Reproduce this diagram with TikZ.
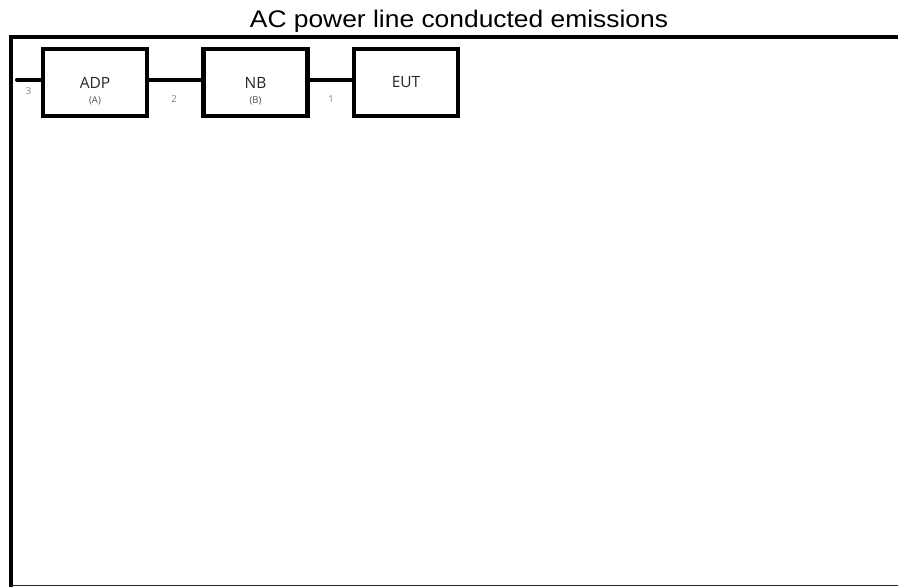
\documentclass[tikz,border=0pt]{standalone}
\usepackage{fontspec}
\setmainfont{Liberation Sans}
\newfontfamily\boxfont{Open Sans}
\usepackage{tikz}
\usetikzlibrary{positioning}

\begin{document}
\begin{tikzpicture}[x=1pt, y=-1pt,
  unitbox/.style={draw, rectangle, line width=4.5pt, inner sep=0pt,
    minimum width=104pt, minimum height=67pt,
    font=\boxfont\fontsize{15.5}{18}\selectfont, text=black!85},
  sublabel/.style={font=\boxfont\fontsize{9.5}{11}\selectfont, text=black!70},
  portnum/.style={font=\boxfont\fontsize{9.5}{11}\selectfont, text=black!50},
  wire/.style={line width=4pt, line cap=round}]
\useasboundingbox (0,0) rectangle (898,587);

% Titulo
\node[anchor=base, xscale=1.1, font=\fontsize{24}{28}\selectfont] (title) at (459,27) {AC power line conducted emissions};

% Moldura
\draw[line width=4.5pt] (11,587) -- (11,37) -- (898,37);
\draw[line width=1.5pt, black!85] (11,585.5) -- (898,585.5);

% Caixas
\node[unitbox] (adp) at (95,82.5) {ADP};
\node[unitbox] (nb) at (255.5,82.5) {NB};
\node[unitbox] (eut) at (406,82.5) {EUT};
\node[sublabel] (adpsub) at (95,100.5) {(A)};
\node[sublabel] (nbsub) at (255.5,101) {(B)};

% Cabos
\coordinate (mains) at (17,79.5);
\draw[wire] (mains) -- ([yshift=3pt]adp.west);
\draw[wire] ([yshift=3pt]adp.east) -- ([yshift=3pt]nb.west);
\draw[wire] ([yshift=3pt]nb.east) -- ([yshift=3pt]eut.west);

% Numeros dos cabos
\node[portnum] (port3) at (28.5,91.5) {3};
\node[portnum] (port2) at (174,99) {2};
\node[portnum] (port1) at (331,99) {1};
\end{tikzpicture}
\end{document}
